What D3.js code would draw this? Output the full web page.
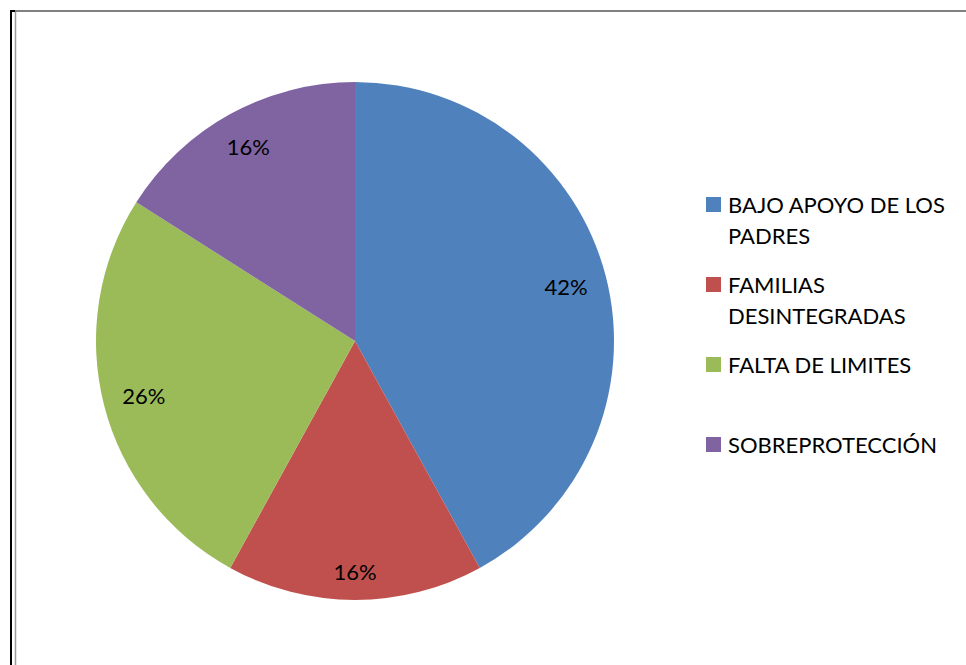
<!DOCTYPE html>
<html>
<head>
<meta charset="utf-8">
<script src="https://cdn.jsdelivr.net/npm/d3@7/dist/d3.min.js"></script>
<style>
  html, body { margin: 0; padding: 0; background: #fff; }
  svg { display: block; }
  text { font-family: Lato, "Open Sans", sans-serif; fill: #000; }
</style>
</head>
<body>
<svg id="chart" width="966" height="665"></svg>
<script>
// Causes and their share of cases (%)
const categories = ["BAJO APOYO DE LOS PADRES", "FAMILIAS DESINTEGRADAS", "FALTA DE LIMITES", "SOBREPROTECCIÓN"];
const values = [42, 16, 26, 16];
const colors = ["#4F81BD", "#C0504D", "#9BBB59", "#8064A2"];

const W = 966, H = 665;
const svg = d3.select("#chart");

// Frame lines along the top and left edge
const frame = svg.append("g");
frame.append("line").attr("x1", 11).attr("x2", 11).attr("y1", 10).attr("y2", H)
  .attr("stroke", "#000").attr("stroke-width", 2);
frame.append("line").attr("x1", 10).attr("x2", 15).attr("y1", 11).attr("y2", 11)
  .attr("stroke", "#000").attr("stroke-width", 2);
frame.append("line").attr("x1", 15.5).attr("x2", 15.5).attr("y1", 12).attr("y2", H)
  .attr("stroke", "#9a9a9a").attr("stroke-width", 1.5);
frame.append("line").attr("x1", 15).attr("x2", W).attr("y1", 11).attr("y2", 11)
  .attr("stroke", "#808080").attr("stroke-width", 2);

// Pie
const cx = 355, cy = 341, R = 259;
const pie = d3.pie().sort(null).value(d => d);
const arcs = pie(values);
const arc = d3.arc().innerRadius(0).outerRadius(R);

const g = svg.append("g").attr("transform", `translate(${cx},${cy})`);
g.selectAll("path.slice")
  .data(arcs)
  .enter().append("path")
  .attr("class", "slice")
  .attr("d", arc)
  .attr("fill", (d, i) => colors[i]);

// Percentage labels placed at the inside end of each slice
const fmt = d => d3.format(".0f")(d) + "%";
const total = d3.sum(values);
const pad = 17;
arcs.forEach((a, i) => {
  const t = g.append("text")
    .attr("text-anchor", "middle")
    .attr("dominant-baseline", "central")
    .attr("font-size", 22)
    .text(fmt(a.data / total * 100));
  const bb = t.node().getBBox();
  const hw = bb.width / 2, hh = 11;
  const mid = (a.startAngle + a.endAngle) / 2;
  const ux = Math.sin(mid), uy = -Math.cos(mid);
  // largest distance where the label box stays inside the slice edge
  let d = 0;
  for (let s = 0; s <= R; s += 0.5) {
    const px = s * ux, py = s * uy;
    const fx = px + Math.sign(ux || 1) * hw, fy = py + Math.sign(uy || 1) * hh;
    if (Math.hypot(fx, fy) > R - pad) break;
    d = s;
  }
  t.attr("x", d * ux).attr("y", d * uy);
});

// Legend
const legend = svg.append("g").attr("transform", "translate(706,197)");
const rowGap = 80, lineH = 31, maxW = 228;
categories.forEach((name, i) => {
  const row = legend.append("g").attr("transform", `translate(0,${i * rowGap})`);
  row.append("rect").attr("x", 0).attr("y", 0).attr("width", 15).attr("height", 15)
    .attr("fill", colors[i]);
  const txt = row.append("text").attr("x", 22).attr("y", 16).attr("font-size", 22);
  // wrap words to the legend width
  const words = name.split(" ");
  let line = [], lineNo = 0;
  let tspan = txt.append("tspan").attr("x", 22).attr("y", 16);
  words.forEach(w => {
    line.push(w);
    tspan.text(line.join(" "));
    if (tspan.node().getComputedTextLength() > maxW && line.length > 1) {
      line.pop();
      tspan.text(line.join(" "));
      line = [w];
      lineNo++;
      tspan = txt.append("tspan").attr("x", 22).attr("y", 16 + lineNo * lineH).text(w);
    }
  });
});
</script>
</body>
</html>
